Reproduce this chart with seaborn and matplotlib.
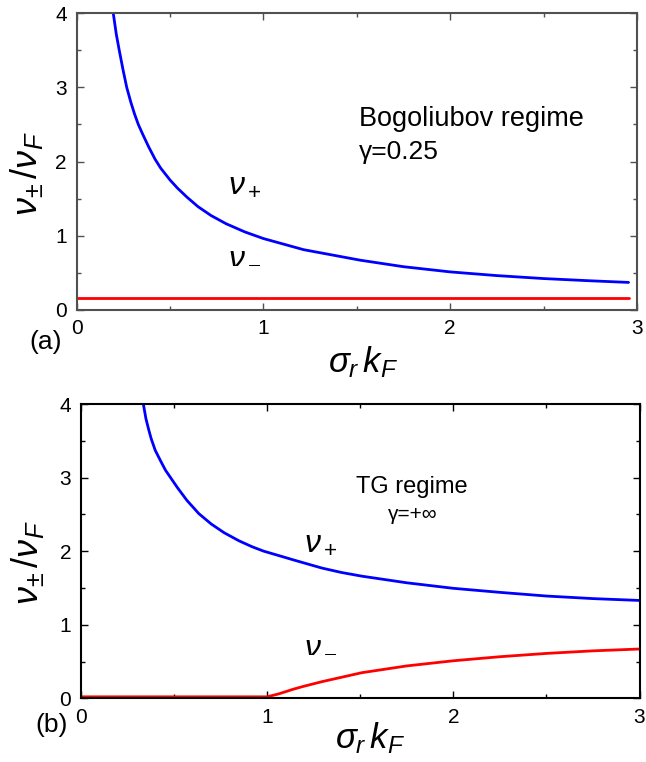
import numpy as np
import pandas as pd
import matplotlib
matplotlib.use("Agg")
import matplotlib.pyplot as plt
from matplotlib.ticker import MultipleLocator
import seaborn as sns

# Panel (a): Bogoliubov regime, gamma = 0.25
a_x_plus = [0.196, 0.212, 0.228, 0.248, 0.268, 0.29, 0.31, 0.33, 0.355, 0.385, 0.42,
            0.45, 0.50, 0.54, 0.59, 0.65, 0.72, 0.80, 0.90, 1.0, 1.215, 1.518,
            1.75, 2.0, 2.25, 2.5, 2.75, 2.955]
a_nu_plus = [4.0, 3.72, 3.5, 3.24, 3.0, 2.8, 2.64, 2.5, 2.36, 2.2, 2.03,
             1.91, 1.75, 1.64, 1.52, 1.39, 1.27, 1.16, 1.05, 0.96, 0.81, 0.668,
             0.58, 0.51, 0.46, 0.42, 0.39, 0.368]
a_x_minus = [0.0, 2.955]
a_nu_minus = [0.16, 0.16]

# Panel (b): TG regime, gamma = +inf
b_x_plus = [0.336, 0.35, 0.365, 0.378, 0.40, 0.43, 0.455, 0.482, 0.52, 0.57, 0.634,
            0.70, 0.77, 0.85, 0.92, 0.982, 1.063, 1.15, 1.295, 1.4, 1.509, 1.75,
            2.0, 2.25, 2.5, 2.75, 3.0]
b_nu_plus = [4.0, 3.8, 3.65, 3.53, 3.37, 3.22, 3.1, 3.0, 2.86, 2.69, 2.51,
             2.37, 2.25, 2.14, 2.06, 2.0, 1.94, 1.875, 1.77, 1.71, 1.66, 1.57,
             1.495, 1.44, 1.39, 1.355, 1.33]
b_x_minus = [0.0, 1.0, 1.063, 1.143, 1.2, 1.295, 1.509, 1.75, 2.0, 2.25, 2.5, 2.75, 3.0]
b_nu_minus = [0.02, 0.02, 0.06, 0.125, 0.165, 0.226, 0.348, 0.44, 0.51, 0.565, 0.61, 0.645, 0.67]

x_ticks = [0, 1, 2, 3]
y_ticks = [0, 1, 2, 3, 4]

sns.set_style("ticks")
plt.rcParams['font.family'] = ['Liberation Sans', 'DejaVu Sans']
plt.rcParams['mathtext.fontset'] = 'custom'
plt.rcParams['mathtext.rm'] = 'Liberation Sans'
plt.rcParams['mathtext.it'] = 'Liberation Sans:italic'
plt.rcParams['text.color'] = 'black'
plt.rcParams['axes.labelcolor'] = 'black'

fig = plt.figure(figsize=(6.46, 7.62), dpi=100)
ax_a = fig.add_axes([0.1187, 0.5936, 0.8673, 0.3889])
ax_b = fig.add_axes([0.1250, 0.0836, 0.8650, 0.3862])

panels = [
    (ax_a, a_x_plus, a_nu_plus, a_x_minus, a_nu_minus, '#505050'),
    (ax_b, b_x_plus, b_nu_plus, b_x_minus, b_nu_minus, 'black'),
]

for ax, xp, yp, xm, ym, spine_col in panels:
    sns.lineplot(x=xp, y=yp, ax=ax, color='#0000ff', lw=2.0, sort=False)
    sns.lineplot(x=xm, y=ym, ax=ax, color='#ff0000', lw=2.0, sort=False)
    ax.set_xlim(0, 3)
    ax.set_ylim(0, 4)
    ax.set_xticks(x_ticks)
    ax.set_yticks(y_ticks)
    ax.xaxis.set_minor_locator(MultipleLocator(0.5))
    ax.yaxis.set_minor_locator(MultipleLocator(0.5))
    ax.tick_params(which='both', direction='in', top=True, right=True,
                   color=spine_col, width=1.0, labelsize=15, labelcolor='black')
    ax.tick_params(which='major', length=5, pad=7)
    ax.tick_params(which='minor', length=3)
    for sp in ax.spines.values():
        sp.set_color(spine_col)
        sp.set_linewidth(1.5)
    ax.set_ylabel(r'$\nu_{\pm}\,/\nu_F$', fontsize=26, va='center')

ax_a.yaxis.set_label_coords(-0.089, 0.46)
ax_b.yaxis.set_label_coords(-0.095, 0.46)
ax_a.set_xlabel(r'$\sigma_r\,k_F$', fontsize=25, va='center')
ax_b.set_xlabel(r'$\sigma_r\,k_F$', fontsize=25, va='center')
ax_a.xaxis.set_label_coords(0.511, -0.176)
ax_b.xaxis.set_label_coords(0.518, -0.135)

# annotations, panel (a)
ax_a.text(0.81, 1.57, r'$\nu_+$', fontsize=23, va='baseline')
ax_a.text(0.81, 0.63, r'$\nu_-$', fontsize=23, va='baseline')
ax_a.text(1.51, 2.48, 'Bogoliubov regime', fontsize=19.5, va='baseline')
ax_a.text(1.51, 2.04, 'γ=0.25', fontsize=19, va='baseline')

# annotations, panel (b)
ax_b.text(1.197, 2.01, r'$\nu_+$', fontsize=23, va='baseline')
ax_b.text(1.197, 0.63, r'$\nu_-$', fontsize=23, va='baseline')
ax_b.text(1.48, 2.79, 'TG regime', fontsize=17, va='baseline')
ax_b.text(1.65, 2.42, 'γ=+∞', fontsize=15, va='baseline')

fig.text(0.071, 0.551, '(a)', fontsize=19, ha='center', va='center')
fig.text(0.080, 0.0486, '(b)', fontsize=19, ha='center', va='center')

fig.savefig('out.png', dpi=100)
